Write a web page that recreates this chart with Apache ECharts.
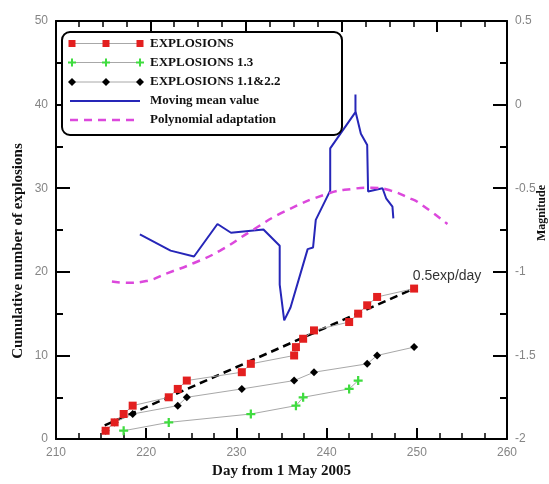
<!DOCTYPE html>
<html>
<head>
<meta charset="utf-8">
<script src="https://cdn.jsdelivr.net/npm/echarts@6/dist/echarts.min.js"></script>
<style>
html,body{margin:0;padding:0;background:#fff;}
#chart{width:549px;height:484px;}
</style>
</head>
<body>
<div id="chart"></div>
<script>
// ---- data ----
const daysAll = [215.5,216.5,217.5,218.5,222.5,223.5,224.5,230.6,231.6,236.4,236.6,237.4,238.6,242.5,243.5,244.5,245.6,249.7];
const cumAll  = [1,2,3,4,5,6,7,8,9,10,11,12,13,14,15,16,17,18];

const days13 = [217.5,222.5,231.6,236.6,237.4,242.5,243.5];
const cum13  = [1,2,3,4,5,6,7];

const days1122 = [215.5,216.5,218.5,223.5,224.5,230.6,236.4,238.6,244.5,245.6,249.7];
const cum1122  = [1,2,3,4,5,6,7,8,9,10,11];

const trendDays = [215.4,249.7];
const trendVals = [1.65,18];
const trendLabel = '0.5exp/day';

const meanDays = [219.3,222.7,225.3,227.9,229.4,233.0,234.8,234.8,235.3,236.0,237.9,238.5,238.8,240.4,240.4,243.2,243.2,243.2,243.8,244.5,244.6,246.2,246.6,247.3,247.4];
const meanMag  = [-0.776,-0.873,-0.908,-0.714,-0.766,-0.747,-0.844,-1.077,-1.29,-1.213,-0.864,-0.854,-0.689,-0.514,-0.262,-0.045,0.06,-0.04,-0.174,-0.242,-0.52,-0.5,-0.56,-0.61,-0.68];

const polyDays = [216.2,218.0,220.0,222.3,225.3,228.2,231.6,235.3,240.1,242.7,245.0,247.1,249.3,250.1,253.4];
const polyMag  = [-1.058,-1.065,-1.055,-1.009,-0.947,-0.873,-0.757,-0.640,-0.533,-0.505,-0.497,-0.514,-0.562,-0.582,-0.714];

const topMajorTicks = [220,230,240,250];
const topMinorTicks = [212.5,215,217.5,222.5,225,227.5,232.5,235,237.5,242.5,245,247.5,252.5,255];

const legendNames = ['EXPLOSIONS','EXPLOSIONS 1.3','EXPLOSIONS 1.1&2.2','Moving mean value','Polynomial adaptation'];
const xTitle = 'Day from 1 May 2005';
const yTitle = 'Cumulative number of explosions';
const y2Title = 'Magnitude';

// ---- styling ----
const RED = '#e31f1f', GREEN = '#3fdc3f', BLUE = '#2626b8', MAG = '#dc48dc', GRAY = '#a8a8a8';
const crossPath = 'path://M3,0H5V3H8V5H5V8H3V5H0V3H3Z';
const zip = (a, b) => a.map((v, i) => [v, b[i]]);
const labelFont = "'Liberation Sans', Arial, sans-serif";
const serif = "'Liberation Serif', 'Times New Roman', serif";

const chart = echarts.init(document.getElementById('chart'), null, {renderer: 'canvas'});

const axisLine = {show: true, onZero: false, lineStyle: {color: '#000', width: 2}};

// legend drawn as graphic
const lx0 = 70, lx1 = 140, rows = [43.5, 62.5, 82, 101, 120];
const legendEls = [];
legendEls.push({type: 'rect', shape: {x: 62, y: 32, width: 280, height: 103, r: 8},
  style: {fill: '#fff', stroke: '#000', lineWidth: 2}, z: 100});
function mkLine(y, color, width, dash) {
  return {type: 'line', shape: {x1: lx0, y1: y, x2: lx1, y2: y},
    style: {stroke: color, lineWidth: width, lineDash: dash || null}, z: 101};
}
function mkSquare(x, y) { return {type: 'rect', shape: {x: x - 3.5, y: y - 3.5, width: 7, height: 7}, style: {fill: RED}, z: 102}; }
function mkCross(x, y) { return {type: 'polygon', shape: {points: [[x-1,y-4],[x+1,y-4],[x+1,y-1],[x+4,y-1],[x+4,y+1],[x+1,y+1],[x+1,y+4],[x-1,y+4],[x-1,y+1],[x-4,y+1],[x-4,y-1],[x-1,y-1]]}, style: {fill: GREEN}, z: 102}; }
function mkDiamond(x, y) { return {type: 'polygon', shape: {points: [[x, y-4],[x+4, y],[x, y+4],[x-4, y]]}, style: {fill: '#000'}, z: 102}; }
legendEls.push(mkLine(rows[0], GRAY, 1));
legendEls.push(mkLine(rows[1], GRAY, 1));
legendEls.push(mkLine(rows[2], GRAY, 1));
legendEls.push(mkLine(rows[3], BLUE, 2));
legendEls.push(mkLine(rows[4], MAG, 2.5, [8, 6]));
[72, 106, 140].forEach(x => {
  legendEls.push(mkSquare(x, rows[0]));
  legendEls.push(mkCross(x, rows[1]));
  legendEls.push(mkDiamond(x, rows[2]));
});
legendNames.forEach((n, i) => {
  legendEls.push({type: 'text', x: 150, y: rows[i], z: 102,
    style: {text: n, fill: '#111', font: 'bold 13px ' + serif, verticalAlign: 'middle', align: 'left'}});
});
legendEls.push({type: 'text', x: 18, y: 251, rotation: Math.PI / 2,
  style: {text: yTitle, fill: '#111', font: 'bold 15px ' + serif, align: 'center', verticalAlign: 'middle'}});
legendEls.push({type: 'text', x: 542, y: 213, rotation: Math.PI / 2,
  style: {text: y2Title, fill: '#111', font: 'bold 12px ' + serif, align: 'center', verticalAlign: 'middle'}});

const option = {
  animation: false,
  backgroundColor: '#fff',
  grid: {left: 56, right: 42, top: 21, bottom: 34, containLabel: false},
  xAxis: [
    {type: 'value', position: 'bottom', min: 210, max: 260, interval: 10,
      axisLine: axisLine,
      axisTick: {show: true, inside: true, length: 11, lineStyle: {color: '#000', width: 2}},
      minorTick: {show: true, splitNumber: 4, length: 6, lineStyle: {color: '#000', width: 1.5}},
      splitLine: {show: false},
      axisLabel: {color: '#858585', fontSize: 12, fontFamily: labelFont, margin: 8},
      name: xTitle, nameLocation: 'middle', nameGap: 16,
      nameTextStyle: {fontFamily: serif, fontWeight: 'bold', fontSize: 15, color: '#111', verticalAlign: 'top'}},
    {type: 'value', position: 'top', min: 210.14, max: 257.3,
      axisLine: axisLine,
      axisTick: {show: true, inside: true, length: 11, customValues: topMajorTicks, lineStyle: {color: '#000', width: 2}},
      axisLabel: {show: false}, splitLine: {show: false}},
    {type: 'value', position: 'top', min: 210.14, max: 257.3,
      axisLine: {show: false, onZero: false},
      axisTick: {show: true, inside: true, length: 6, customValues: topMinorTicks, lineStyle: {color: '#000', width: 1.5}},
      axisLabel: {show: false}, splitLine: {show: false}}
  ],
  yAxis: [
    {type: 'value', position: 'left', min: 0, max: 50, interval: 10,
      axisLine: axisLine,
      axisTick: {show: true, inside: true, length: 14, lineStyle: {color: '#000', width: 2}},
      minorTick: {show: true, splitNumber: 2, length: 7, lineStyle: {color: '#000', width: 2}},
      splitLine: {show: false},
      axisLabel: {color: '#858585', fontSize: 12, fontFamily: labelFont, margin: 8}},
    {type: 'value', position: 'right', min: -2, max: 0.5, interval: 0.5,
      axisLine: axisLine,
      axisTick: {show: true, inside: true, length: 14, lineStyle: {color: '#000', width: 2}},
      minorTick: {show: true, splitNumber: 2, length: 7, lineStyle: {color: '#000', width: 2}},
      splitLine: {show: false},
      axisLabel: {color: '#858585', fontSize: 12, fontFamily: labelFont, margin: 8}}
  ],
  graphic: {elements: legendEls},
  series: [
    {name: legendNames[3], type: 'line', xAxisIndex: 0, yAxisIndex: 1, data: zip(meanDays, meanMag),
      symbol: 'none', lineStyle: {color: BLUE, width: 2}, z: 2},
    {name: legendNames[4], type: 'line', xAxisIndex: 0, yAxisIndex: 1, data: zip(polyDays, polyMag),
      symbol: 'none', smooth: true, lineStyle: {color: MAG, width: 2.5, type: [8, 6]}, z: 2},
    {name: 'trend', type: 'line', xAxisIndex: 0, yAxisIndex: 0,
      data: zip(trendDays, trendVals).map((p, i, arr) => i === arr.length - 1 ?
        {value: p, label: {show: true, formatter: trendLabel, position: 'top', offset: [33, 0],
          color: '#333', fontSize: 14, fontFamily: labelFont}} : p),
      symbol: 'circle', symbolSize: 0.01, showSymbol: true, itemStyle: {color: 'rgba(0,0,0,0)'},
      lineStyle: {color: '#000', width: 2.5, type: [8, 5]}, z: 3},
    {name: legendNames[2], type: 'line', xAxisIndex: 0, yAxisIndex: 0, data: zip(days1122, cum1122),
      symbol: 'diamond', symbolSize: 8, itemStyle: {color: '#000'}, lineStyle: {color: GRAY, width: 1}, z: 4},
    {name: legendNames[1], type: 'line', xAxisIndex: 0, yAxisIndex: 0, data: zip(days13, cum13),
      symbol: crossPath, symbolSize: 9, itemStyle: {color: GREEN}, lineStyle: {color: GRAY, width: 1}, z: 4},
    {name: legendNames[0], type: 'line', xAxisIndex: 0, yAxisIndex: 0, data: zip(daysAll, cumAll),
      symbol: 'rect', symbolSize: 8, itemStyle: {color: RED}, lineStyle: {color: GRAY, width: 1}, z: 5}
  ]
};
chart.setOption(option);
</script>
</body>
</html>
